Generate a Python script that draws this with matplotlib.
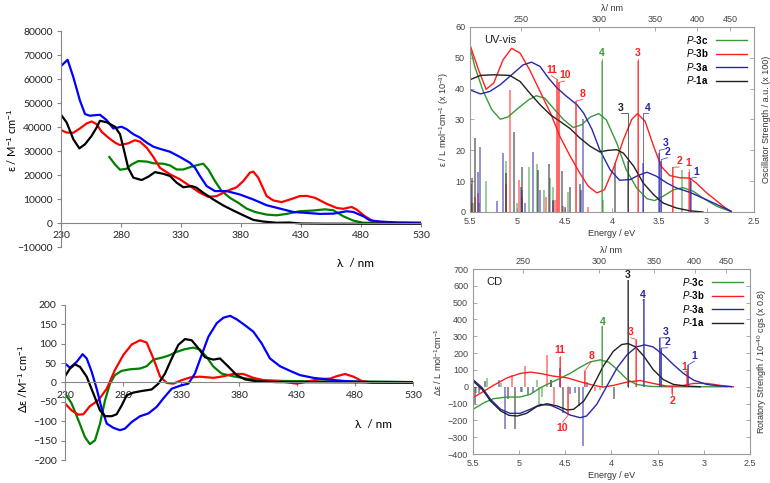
import numpy as np
import matplotlib.pyplot as plt

plt.rcParams['font.family'] = ['Liberation Sans', 'DejaVu Sans']
plt.rcParams['mathtext.fontset'] = 'custom'
plt.rcParams['mathtext.rm'] = 'Liberation Sans'
plt.rcParams['mathtext.it'] = 'Liberation Sans:italic'
plt.rcParams['mathtext.bf'] = 'Liberation Sans:bold'

# ---------------- experimental UV-vis (top left) ----------------
wl_abs_3a = [230, 235.5, 240.3, 245.8, 250, 254, 262.5, 268, 273.6, 280.5, 284.7, 290.3, 295.8,
             301.4, 307, 312.5, 320.8, 329.2, 337.5, 341.7, 345.8, 351.4, 358.3, 368, 379,
             390.3, 401.4, 412.5, 423.6, 434.7, 445.8, 457, 468, 473.6, 482, 487.5, 496, 510, 530]
eps_abs_3a = [65400, 68000, 60750, 51000, 45400, 44700, 45100, 42900, 39400, 40100, 39100, 37000,
              35600, 33500, 31800, 30900, 29700, 27500, 25100, 23000, 19600, 15400, 13300, 13300,
              11900, 9800, 7400, 6000, 4600, 4200, 3800, 3900, 4900, 4600, 2800, 1100, 600, 200, 100]
wl_abs_3b = [230, 234.7, 240.3, 245.8, 251.4, 255.5, 259.7, 263.9, 269.4, 275, 279, 286, 291.7,
             295.8, 301.4, 307, 312.5, 320.8, 329.2, 337.5, 345.8, 352.8, 359.7, 368, 376.4, 382,
             387.5, 390.3, 394.4, 401.4, 407, 413.9, 420.8, 429, 434.7, 441.7, 451.4, 459.7,
             465.3, 472.2, 476.4, 483.3, 490.3, 498.6, 510, 530]
eps_abs_3b = [38700, 37700, 37600, 39400, 41500, 42300, 41200, 38000, 35600, 33500, 32500, 33200,
              34500, 33900, 31400, 27500, 23000, 20300, 18200, 15400, 12600, 10900, 11200, 13300,
              14900, 17500, 21000, 21400, 18900, 11200, 9400, 8700, 9800, 11200, 11300, 10500,
              8000, 6300, 5900, 6700, 5600, 2800, 700, 300, 100, 0]
wl_abs_3c = [270.3, 275, 279.2, 284.7, 288.9, 294.4, 301.4, 307, 315.3, 320.8, 326.4, 332, 338.9,
             345.8, 348.6, 352.8, 358.3, 363.9, 370.8, 377.8, 384.7, 391.7, 401.4, 409.7, 418,
             429, 440.3, 450, 457, 465.3, 473.6, 482, 500, 530]
eps_abs_3c = [27500, 24400, 22200, 22600, 24400, 25800, 25600, 24900, 24700, 24000, 22300, 22300,
              23500, 24400, 24700, 22300, 17500, 13300, 10500, 8400, 6000, 4600, 3500, 3200, 3800,
              4900, 5200, 5700, 5300, 2800, 1000, 100, 0, 0]
wl_abs_1a = [230, 234.7, 240.3, 245.3, 250, 255.5, 259.7, 262.5, 268, 275, 279.2, 282, 286, 290.3,
             297.2, 302.8, 308.3, 315.3, 320.8, 326.4, 332, 338.9, 343, 348.6, 357, 365.3, 373.6,
             382, 390.3, 398.6, 409.7, 420, 430, 450, 530]
eps_abs_1a = [45100, 41900, 34900, 31100, 32800, 36300, 39800, 42600, 42000, 40100, 37000, 31400,
              23000, 18900, 17900, 19300, 21200, 20500, 19600, 16800, 14900, 15400, 14700, 12600,
              9800, 7300, 5200, 3200, 1300, 600, 100, 200, -200, -300, -300]

# ---------------- experimental CD (bottom left) ----------------
wl_cd_3a = [230, 234.3, 240, 245.2, 248.7, 253, 257.3, 261.6, 266, 271.7, 277.4, 281.7, 287.5,
            294.7, 301.8, 309, 314.8, 322, 330.6, 336.3, 342, 347.8, 353.6, 360.8, 366.5, 372.3,
            378, 385, 392.4, 399.5, 406.7, 415.3, 424, 432.6, 444, 455.6, 470, 481.4, 500, 530]
de_cd_3a = [49, 38, 53, 73, 62, 28, -16, -67, -106, -117, -123, -119, -102, -87, -80, -63, -41,
            -16, -7, -3, 23, 71, 118, 153, 167, 172, 163, 148, 131, 101, 62, 42, 30, 19, 12, 8,
            4, 2, 0, 0]
wl_cd_3b = [230, 235.7, 241.5, 245.8, 251.5, 258.7, 266, 273, 280.3, 287.5, 294.7, 300.4, 306.2,
            312, 317.6, 323.4, 330.6, 337.8, 346.4, 358, 366.5, 375, 383.7, 392.4, 403.8, 418,
            429.7, 438.3, 449.8, 458.5, 464, 471.4, 478.6, 485.7, 493, 530]
de_cd_3b = [-54, -72, -83, -82, -61, -46, -16, 32, 71, 98, 109, 103, 62, 15, -1, -3, 6, 13, 15, 12,
            16, 22, 22, 12, 4, 2, -3, 2, 9, 10, 16, 22, 15, 4, 0, 0]
wl_cd_3c = [230, 235.7, 241.5, 247.2, 251.5, 255.9, 260.2, 264.5, 268.8, 273, 278.8, 286, 294.7,
            300.4, 306.2, 313.3, 319, 326.3, 333.4, 340.6, 346.4, 352, 357.9, 365, 375, 386.6,
            401, 418, 447, 475.7, 510, 530]
de_cd_3c = [-28, -54, -97, -141, -159, -149, -106, -46, -3, 19, 30, 34, 36, 42, 59, 64, 69, 79, 86,
            90, 85, 66, 41, 23, 16, 10, 6, 4, 3, 3, 2, 1]
wl_cd_1a = [230, 234.3, 238.6, 243, 248.7, 254.4, 260.2, 264.5, 270.2, 274.5, 278.9, 283.2, 289,
            296.1, 304.7, 310.5, 316.2, 322, 327.7, 333.4, 339.2, 345, 350.7, 357.9, 363.6, 370.8,
            378, 385.2, 395.2, 412.5, 530]
de_cd_1a = [16, 36, 47, 40, 15, -28, -72, -87, -87, -82, -59, -33, -26, -22, -18, -3, 23, 62, 97,
            112, 109, 88, 65, 59, 62, 41, 19, 8, 3, 1, 0]

# ---------------- calculated UV-vis (top right) ----------------
E_uv_3c = [5.5, 5.45, 5.36, 5.27, 5.18, 5.10, 4.99, 4.88, 4.80, 4.71, 4.62, 4.51, 4.41, 4.32, 4.23,
           4.14, 4.06, 3.95, 3.85, 3.74, 3.63, 3.55, 3.46, 3.35, 3.25, 3.14, 3.04, 2.89, 2.75]
eps_uv_3c = [53.5, 47.2, 39.1, 33.2, 30.1, 30.8, 33.7, 36.4, 37.7, 36.9, 33.7, 29.9, 27.4, 28.3,
             30.8, 31.9, 29.9, 22.4, 13.7, 7.8, 4.3, 3.7, 5.1, 7.2, 7.9, 6.7, 4.5, 1.8, 0.2]
E_uv_3b = [5.5, 5.41, 5.33, 5.25, 5.15, 5.06, 4.97, 4.87, 4.76, 4.65, 4.55, 4.44, 4.34, 4.25, 4.16,
           4.08, 3.99, 3.88, 3.79, 3.73, 3.65, 3.56, 3.48, 3.39, 3.28, 3.18, 3.11, 3.00, 2.89, 2.81,
           2.74]
eps_uv_3b = [54.2, 46.1, 39.8, 41.8, 49.4, 53.1, 51.5, 46.1, 39.1, 32.1, 24.5, 18.0, 12.6, 8.3,
             6.2, 7.2, 13.7, 23.4, 30.1, 31.9, 29.4, 21.3, 14.8, 11.8, 11.1, 11.0, 9.4, 6.2, 3.5,
             1.5, 0.2]
E_uv_3a = [5.5, 5.39, 5.29, 5.18, 5.06, 4.94, 4.85, 4.76, 4.67, 4.58, 4.48, 4.37, 4.30, 4.21, 4.13,
           4.02, 3.92, 3.81, 3.72, 3.63, 3.53, 3.42, 3.32, 3.18, 3.04, 2.89, 2.74]
eps_uv_3a = [39.6, 38.3, 39.1, 41.3, 44.5, 47.7, 48.6, 47.2, 43.4, 40.2, 37.5, 34.8, 32.1, 26.7,
             20.2, 13.7, 10.3, 10.5, 11.9, 12.9, 11.6, 9.4, 7.8, 6.4, 4.5, 2.4, 0.2]
E_uv_1a = [5.5, 5.39, 5.25, 5.08, 4.97, 4.87, 4.76, 4.65, 4.55, 4.44, 4.34, 4.23, 4.13, 4.04, 3.95,
           3.88, 3.77, 3.67, 3.56, 3.46, 3.32, 3.18, 3.04]
eps_uv_1a = [42.9, 44.3, 44.5, 44.3, 42.3, 38.6, 34.8, 31.5, 29.4, 27.0, 24.0, 21.3, 19.5, 20.0,
             20.2, 19.1, 14.8, 9.4, 5.6, 2.9, 1.3, 0.4, 0.0]

# oscillator strengths (x 100)
f_E_3c = [5.47, 5.40, 5.33, 5.12, 5.00, 4.95, 4.88, 4.79, 4.72, 4.66, 4.62, 4.46, 4.11, 4.10, 3.26]
f_3c = [3, 3, 10, 16.5, 3, 7, 14.5, 15.5, 7, 11, 8, 6.5, 49, 4, 13.7]
f_E_3b = [5.49, 5.45, 5.42, 5.12, 5.08, 4.98, 4.95, 4.70, 4.62, 4.60, 4.58, 4.56, 4.52, 4.38, 4.25,
          3.73, 3.36, 3.19]
f_3b = [3, 5, 6, 9, 39.6, 10.5, 5, 5, 3.5, 4, 43, 42, 2, 36, 1.5, 49, 14.5, 13]
f_E_3a = [5.49, 5.42, 5.39, 5.21, 5.15, 4.96, 4.92, 4.83, 4.76, 4.62, 4.50, 4.33, 4.31, 3.67, 3.50,
          3.48, 3.17]
f_3a = [9, 13, 21, 3.5, 19, 8, 3, 19.5, 7, 4, 1.5, 7, 30, 16, 19, 16.5, 10]
f_E_1a = [5.48, 5.45, 5.12, 5.04, 4.95, 4.78, 4.67, 4.53, 4.44, 4.34, 3.97, 3.83]
f_1a = [11, 24, 12.5, 26, 14.5, 13.5, 15.5, 13.2, 8, 9, 16, 16.5]

# ---------------- calculated CD (bottom right) ----------------
E_cd_3c = [5.5, 5.38, 5.28, 5.13, 4.99, 4.88, 4.77, 4.66, 4.56, 4.45, 4.34, 4.23, 4.12, 4.03, 3.94,
           3.83, 3.73, 3.58, 3.40, 3.04, 2.75]
de_cdc_3c = [-134, -95, -71, -61, -61, -45, -6, 24, 49, 79, 116, 148, 160, 146, 103, 43, 14, 2, 0,
             0, 0]
E_cd_3b = [5.5, 5.38, 5.28, 5.13, 4.99, 4.88, 4.77, 4.63, 4.48, 4.34, 4.19, 4.09, 3.98, 3.83, 3.69,
           3.55, 3.40, 3.26, 3.11, 2.97, 2.82, 2.68]
de_cdc_3b = [-65, -26, 8, 53, 79, 87, 79, 63, 53, 30, 8, -2, 8, 28, 37, 20, 4, 4, 20, 20, 8, 0]
E_cd_3a = [5.5, 5.40, 5.31, 5.20, 5.10, 4.99, 4.88, 4.77, 4.66, 4.56, 4.45, 4.34, 4.27, 4.16, 4.05,
           3.94, 3.83, 3.73, 3.64, 3.55, 3.44, 3.33, 3.22, 3.11, 2.97, 2.82, 2.70]
de_cdc_3a = [43, -6, -75, -134, -158, -158, -134, -105, -110, -134, -168, -184, -174, -105, 4, 112,
             191, 237, 249, 237, 191, 132, 79, 39, 14, 4, 0]
E_cd_1a = [5.5, 5.40, 5.31, 5.20, 5.11, 5.02, 4.92, 4.81, 4.70, 4.59, 4.48, 4.41, 4.30, 4.19, 4.09,
           3.98, 3.89, 3.82, 3.74, 3.65, 3.55, 3.44, 3.33, 3.19, 3.04]
de_cdc_1a = [34, -16, -85, -144, -170, -174, -158, -118, -101, -114, -138, -134, -85, 14, 122, 211,
             251, 257, 237, 182, 103, 43, 14, 4, 0]

# rotatory strengths (x 0.8)
R_E_3c = [5.47, 5.35, 5.20, 4.97, 4.81, 4.79, 4.75, 4.66, 4.12, 4.10]
R_3c = [-40, 53, 20, -30, 43, -105, -60, 40, -20, 360]
R_E_3b = [5.50, 5.42, 5.08, 4.94, 4.70, 4.62, 4.56, 4.47, 4.29, 4.18, 3.73, 3.34, 3.18]
R_3b = [93, -20, 69, 126, 191, -105, 175, -170, 95, -25, 280, -45, 95]
R_E_3a = [5.50, 5.44, 5.22, 5.15, 4.98, 4.85, 4.56, 4.45, 4.40, 4.31, 4.26, 3.65, 3.48, 3.46, 3.17]
R_3a = [102, -40, 43, -249, -30, -35, 112, -45, -40, -355, 30, 520, 290, 230, 130]
R_E_1a = [5.48, 5.37, 5.12, 5.04, 4.90, 4.65, 4.53, 4.35, 3.97, 3.82]
R_1a = [-105, 33, -75, -253, -50, 43, -154, -114, -75, 635]

# state labels: stick energy, leader height, label energy, label height, text, series
labels_uv = [(4.11, 49, 4.11, 51.5, '4', '3c'), (3.73, 49, 3.73, 51.5, '3', '3b'),
             (4.58, 43, 4.64, 46, '11', '3b'), (4.56, 42, 4.50, 44.3, '10', '3b'),
             (4.38, 36, 4.31, 38.3, '8', '3b'), (3.83, 32, 3.91, 33.8, '3', '1a'),
             (3.67, 32, 3.62, 33.8, '4', '3a'), (3.50, 20, 3.43, 22.3, '3', '3a'),
             (3.48, 17, 3.41, 19.4, '2', '3a'), (3.36, 14.5, 3.29, 16.4, '2', '3b'),
             (3.19, 13, 3.19, 15.8, '1', '3b'), (3.17, 11, 3.11, 13.0, '1', '3a')]
labels_cd = [(3.82, 635, 3.82, 665, '3', '1a'), (3.65, 520, 3.66, 548, '4', '3a'),
             (4.10, 360, 4.10, 388, '4', '3c'), (3.73, 280, 3.79, 325, '3', '3b'),
             (3.48, 290, 3.41, 325, '3', '3a'), (3.46, 230, 3.39, 265, '2', '3a'),
             (3.17, 130, 3.10, 185, '1', '3a'), (3.18, 95, 3.21, 120, '1', '3b'),
             (3.34, -45, 3.34, -85, '2', '3b'), (4.56, 175, 4.56, 217, '11', '3b'),
             (4.29, 95, 4.22, 182, '8', '3b'), (4.47, -170, 4.53, -243, '10', '3b')]

series = ['3c', '3b', '3a', '1a']
calc_colors = {'3c': '#3a9a3a', '3b': '#ff2020', '3a': '#2828a8', '1a': '#202020'}
exp_colors = {'3c': '#008000', '3b': '#ff0000', '3a': '#0000ff', '1a': '#000000'}
leg_labels = {s: r'$\it{P}$-$\bf{%s}$' % s for s in series}

fig = plt.figure(figsize=(7.7, 4.83), dpi=100)


def excel_axes(ax, ylim, yticks):
    ax.set_xlim(230, 530)
    ax.set_ylim(*ylim)
    ax.set_xticks(range(230, 531, 50))
    ax.set_yticks(yticks)
    for s in ['top', 'right']:
        ax.spines[s].set_visible(False)
    ax.spines['bottom'].set_position(('data', 0))
    for s in ['left', 'bottom']:
        ax.spines[s].set_color('#868686')
    ax.tick_params(direction='out', length=3, color='#868686', labelsize=7.5,
                   labelcolor='#222222', pad=3)
    for t in ax.get_xticklabels() + ax.get_yticklabels():
        t.set_family('Lato')


ax1 = fig.add_axes([0.0792, 0.4886, 0.4675, 0.4472])
excel_axes(ax1, (-10000, 80000), range(-10000, 80001, 10000))
ax1.plot(wl_abs_3c, eps_abs_3c, color=exp_colors['3c'], lw=1.6)
ax1.plot(wl_abs_3b, eps_abs_3b, color=exp_colors['3b'], lw=1.6)
ax1.plot(wl_abs_3a, eps_abs_3a, color=exp_colors['3a'], lw=1.6)
ax1.plot(wl_abs_1a, eps_abs_1a, color=exp_colors['1a'], lw=1.6)
ax1.text(0.817, -0.075, 'λ  / nm', transform=ax1.transAxes, ha='center', va='center',
         fontsize=8.5, family='Lato')
fig.text(0.016, 0.71, 'ε / M$^{-1}$ cm$^{-1}$', rotation=90, ha='center', va='center',
         fontsize=8, family='Lato')

ax2 = fig.add_axes([0.0844, 0.0476, 0.452, 0.321])
excel_axes(ax2, (-200, 200), range(-200, 201, 50))
ax2.plot(wl_cd_3c, de_cd_3c, color=exp_colors['3c'], lw=1.6)
ax2.plot(wl_cd_3b, de_cd_3b, color=exp_colors['3b'], lw=1.6)
ax2.plot(wl_cd_3a, de_cd_3a, color=exp_colors['3a'], lw=1.6)
ax2.plot(wl_cd_1a, de_cd_1a, color=exp_colors['1a'], lw=1.6)
ax2.text(0.885, 0.226, 'λ  / nm', transform=ax2.transAxes, ha='center', va='center',
         fontsize=8.5, family='Lato')
fig.text(0.03, 0.215, 'Δε /M$^{-1}$ cm$^{-1}$', rotation=90, ha='center', va='center',
         fontsize=8, family='Lato')


def gnu_axes(ax, ylim, yticks, left_label, right_label, tag):
    ax.set_xlim(5.5, 2.5)
    ax.set_ylim(*ylim)
    ax.set_xticks([5.5, 5, 4.5, 4, 3.5, 3, 2.5])
    ax.set_xticklabels(['5.5', '5', '4.5', '4', '3.5', '3', '2.5'])
    ax.set_yticks(yticks)
    for s in ax.spines.values():
        s.set_color('#9a9a9a')
        s.set_linewidth(0.8)
    ax.tick_params(direction='in', length=3, right=True, color='#9a9a9a', labelsize=6.5,
                   labelcolor='#444444', width=0.6)
    ax.set_xlabel('Energy / eV', fontsize=6.5, color='#333333', labelpad=2)
    ax.set_ylabel(left_label, fontsize=6.5, color='#333333', labelpad=3)
    ax.text(1.045, 0.5, right_label, transform=ax.transAxes, rotation=90, ha='center',
            va='center', fontsize=6.5, color='#333333')
    ax.text(0.05, 0.93, tag, transform=ax.transAxes, fontsize=8, color='#222222', va='center')
    top = ax.secondary_xaxis('top', functions=(lambda e: 1239.84 / np.maximum(e, 1e-3),
                                               lambda l: 1239.84 / np.maximum(l, 1e-3)))
    top.set_xticks([250, 300, 350, 400, 450])
    top.tick_params(direction='in', length=3, color='#9a9a9a', labelsize=6.5,
                    labelcolor='#444444', width=0.6, pad=2)
    top.set_xlabel('λ/ nm', fontsize=6.5, color='#333333', labelpad=3)
    top.spines['top'].set_visible(False)


def state_labels(ax, labels, span):
    for E, ly, tE, ty, txt, s in labels:
        c = calc_colors[s]
        off = 0.03 * span * np.sign(ly)
        ax.plot([E, E, tE], [0, ly, ty - off], color=c, lw=0.6, alpha=0.8)
        ax.text(tE, ty, txt, color=c, fontsize=7.5, fontweight='bold', ha='center', va='center')


ax3 = fig.add_axes([0.6104, 0.5611, 0.3688, 0.383])
gnu_axes(ax3, (0, 60), range(0, 61, 10), 'ε / L mol$^{-1}$cm$^{-1}$ (x 10$^{-3}$)',
         'Oscillator Strength / a.u. (x 100)', 'UV-vis')
ax3.vlines(f_E_3c, 0, f_3c, colors=calc_colors['3c'], lw=1.3, alpha=0.55)
ax3.vlines(f_E_3b, 0, f_3b, colors=calc_colors['3b'], lw=1.3, alpha=0.55)
ax3.vlines(f_E_3a, 0, f_3a, colors=calc_colors['3a'], lw=1.3, alpha=0.55)
ax3.vlines(f_E_1a, 0, f_1a, colors=calc_colors['1a'], lw=1.3, alpha=0.55)
h3 = {}
h3['3c'], = ax3.plot(E_uv_3c, eps_uv_3c, color=calc_colors['3c'], lw=1.0)
h3['3b'], = ax3.plot(E_uv_3b, eps_uv_3b, color=calc_colors['3b'], lw=1.0)
h3['3a'], = ax3.plot(E_uv_3a, eps_uv_3a, color=calc_colors['3a'], lw=1.0)
h3['1a'], = ax3.plot(E_uv_1a, eps_uv_1a, color=calc_colors['1a'], lw=1.0)
state_labels(ax3, labels_uv, 60)
ax3.legend([h3[s] for s in series], [leg_labels[s] for s in series], loc='upper right',
           frameon=False, markerfirst=False, fontsize=7, handlelength=3.2, labelspacing=0.15,
           borderaxespad=0.3)

ax4 = fig.add_axes([0.6143, 0.06, 0.3597, 0.383])
gnu_axes(ax4, (-400, 700), range(-400, 701, 100), 'Δε / L mol$^{-1}$cm$^{-1}$',
         'Rotatory Strength / 10$^{-40}$ cgs (x 0.8)', 'CD')
ax4.vlines(R_E_3c, 0, R_3c, colors=calc_colors['3c'], lw=1.3, alpha=0.55)
ax4.vlines(R_E_3b, 0, R_3b, colors=calc_colors['3b'], lw=1.3, alpha=0.55)
ax4.vlines(R_E_3a, 0, R_3a, colors=calc_colors['3a'], lw=1.3, alpha=0.55)
ax4.vlines(R_E_1a, 0, R_1a, colors=calc_colors['1a'], lw=1.3, alpha=0.55)
h4 = {}
h4['3c'], = ax4.plot(E_cd_3c, de_cdc_3c, color=calc_colors['3c'], lw=1.0)
h4['3b'], = ax4.plot(E_cd_3b, de_cdc_3b, color=calc_colors['3b'], lw=1.0)
h4['3a'], = ax4.plot(E_cd_3a, de_cdc_3a, color=calc_colors['3a'], lw=1.0)
h4['1a'], = ax4.plot(E_cd_1a, de_cdc_1a, color=calc_colors['1a'], lw=1.0)
state_labels(ax4, labels_cd, 1100)
ax4.legend([h4[s] for s in series], [leg_labels[s] for s in series], loc='upper right',
           frameon=False, markerfirst=False, fontsize=7, handlelength=3.2, labelspacing=0.15,
           borderaxespad=0.3)

fig.savefig('out.png', dpi=100)
